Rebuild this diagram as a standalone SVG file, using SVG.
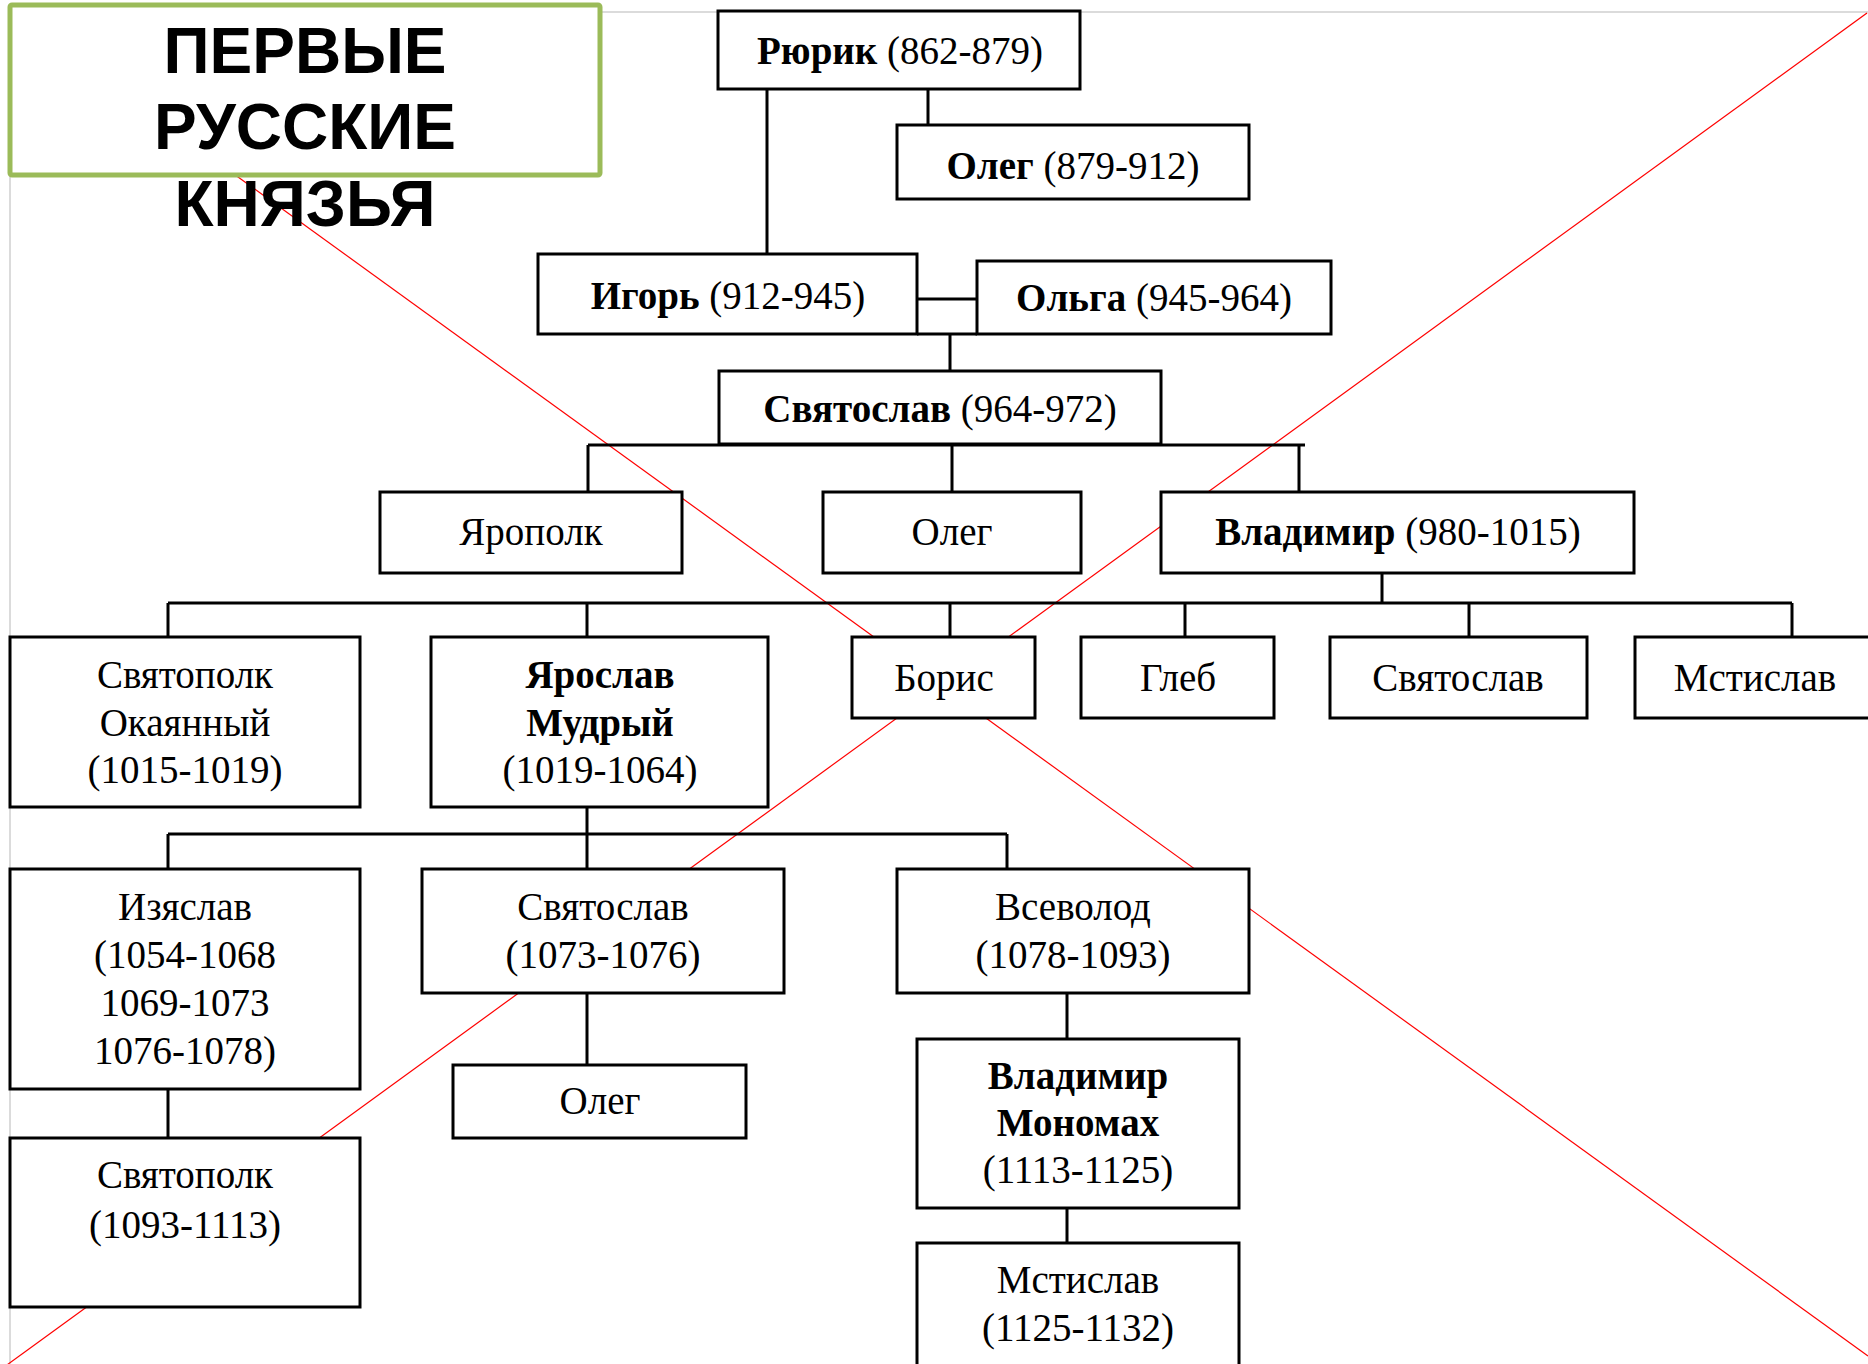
<svg xmlns="http://www.w3.org/2000/svg" width="1868" height="1364" viewBox="0 0 1868 1364">
<style>
.b{fill:#fff;stroke:#000;stroke-width:3}
.t{font-family:"Liberation Serif","Times New Roman",serif;font-size:39px;text-anchor:middle;fill:#000}
.bo{font-weight:bold}
.c{stroke:#000;stroke-width:3;fill:none}
.r{stroke:#ff0000;stroke-width:1.2;fill:none}
.title{font-family:"Liberation Sans",Arial,sans-serif;font-size:64px;font-weight:bold;text-anchor:middle;fill:#000}
</style>
<rect x="0" y="0" width="1868" height="1364" fill="#fff"/>
<rect x="10" y="12" width="1880" height="1400" fill="none" stroke="#cfcfcf" stroke-width="1.5"/>
<g id="cross">
<line class="r" x1="10" y1="12" x2="1868" y2="1356"/>
<line class="r" x1="1867" y1="13" x2="0" y2="1370"/>
</g>
<g id="connectors">
<path class="c" d="M767 89V254M928 89V125M917 299H977M917 334H977M950 334V371"/>
<path class="c" d="M588 445H1305M588 445V492M952 445V492M1299 445V492"/>
<path class="c" d="M1382 573V603M168 603H1792M168 603V637M587 603V637M950 603V637M1185 603V637M1469 603V637M1792 603V637"/>
<path class="c" d="M587 807V834M168 834H1007M168 834V869M587 834V869M1007 834V869"/>
<path class="c" d="M168 1089V1138M587 993V1065M1067 993V1039M1067 1208V1243"/>
</g>
<g id="title">
<rect x="10" y="5" width="590" height="170" rx="2" fill="#fff" stroke="#9bbb59" stroke-width="5"/>
<text class="title" x="305" y="73">ПЕРВЫЕ</text>
<text class="title" x="305" y="149">РУССКИЕ</text>
<text class="title" x="305" y="226">КНЯЗЬЯ</text>
</g>
<g id="rurik"><rect class="b" x="718" y="11" width="362" height="78"/><text class="t" x="900" y="64"><tspan class="bo">Рюрик</tspan>  (862-879)</text></g>
<g id="oleg1"><rect class="b" x="897" y="125" width="352" height="74"/><text class="t" x="1073" y="179"><tspan class="bo">Олег</tspan> (879-912)</text></g>
<g id="igor"><rect class="b" x="538" y="254" width="379" height="80"/><text class="t" x="728" y="309"><tspan class="bo">Игорь</tspan> (912-945)</text></g>
<g id="olga"><rect class="b" x="977" y="261" width="354" height="73"/><text class="t" x="1154" y="311"><tspan class="bo">Ольга</tspan> (945-964)</text></g>
<g id="svyatoslav1"><rect class="b" x="719" y="371" width="442" height="73"/><text class="t" x="940" y="422"><tspan class="bo">Святослав</tspan> (964-972)</text></g>
<g id="yaropolk"><rect class="b" x="380" y="492" width="302" height="81"/><text class="t" x="531" y="545">Ярополк</text></g>
<g id="oleg2"><rect class="b" x="823" y="492" width="258" height="81"/><text class="t" x="952" y="545">Олег</text></g>
<g id="vladimir1"><rect class="b" x="1161" y="492" width="473" height="81"/><text class="t" x="1398" y="545"><tspan class="bo">Владимир</tspan> (980-1015)</text></g>
<g id="svyatopolk1"><rect class="b" x="10" y="637" width="350" height="170"/><text class="t" x="185" y="688">Святополк<tspan x="185" dy="47.5">Окаянный</tspan><tspan x="185" dy="47.5">(1015-1019)</tspan></text></g>
<g id="yaroslav"><rect class="b" x="431" y="637" width="337" height="170"/><text class="t" x="600" y="688"><tspan class="bo">Ярослав</tspan><tspan class="bo" x="600" dy="47.5">Мудрый</tspan><tspan x="600" dy="47.5">(1019-1064)</tspan></text></g>
<g id="boris"><rect class="b" x="852" y="637" width="183" height="81"/><text class="t" x="944" y="691">Борис</text></g>
<g id="gleb"><rect class="b" x="1081" y="637" width="193" height="81"/><text class="t" x="1178" y="691">Глеб</text></g>
<g id="svyatoslav2"><rect class="b" x="1330" y="637" width="257" height="81"/><text class="t" x="1458" y="691">Святослав</text></g>
<g id="mstislav1"><rect class="b" x="1635" y="637" width="260" height="81"/><text class="t" x="1755" y="691">Мстислав</text></g>
<g id="izyaslav"><rect class="b" x="10" y="869" width="350" height="220"/><text class="t" x="185" y="920">Изяслав<tspan x="185" dy="48">(1054-1068</tspan><tspan x="185" dy="48">1069-1073</tspan><tspan x="185" dy="48">1076-1078)</tspan></text></g>
<g id="svyatoslav3"><rect class="b" x="422" y="869" width="362" height="124"/><text class="t" x="603" y="920">Святослав<tspan x="603" dy="48">(1073-1076)</tspan></text></g>
<g id="vsevolod"><rect class="b" x="897" y="869" width="352" height="124"/><text class="t" x="1073" y="920">Всеволод<tspan x="1073" dy="48">(1078-1093)</tspan></text></g>
<g id="oleg3"><rect class="b" x="453" y="1065" width="293" height="73"/><text class="t" x="600" y="1114">Олег</text></g>
<g id="svyatopolk2"><rect class="b" x="10" y="1138" width="350" height="169"/><text class="t" x="185" y="1188">Святополк<tspan x="185" dy="50">(1093-1113)</tspan></text></g>
<g id="monomakh"><rect class="b" x="917" y="1039" width="322" height="169"/><text class="t" x="1078" y="1089"><tspan class="bo">Владимир</tspan><tspan class="bo" x="1078" dy="47">Мономах</tspan><tspan x="1078" dy="47">(1113-1125)</tspan></text></g>
<g id="mstislav2"><rect class="b" x="917" y="1243" width="322" height="150"/><text class="t" x="1078" y="1293">Мстислав<tspan x="1078" dy="48">(1125-1132)</tspan></text></g>
</svg>
